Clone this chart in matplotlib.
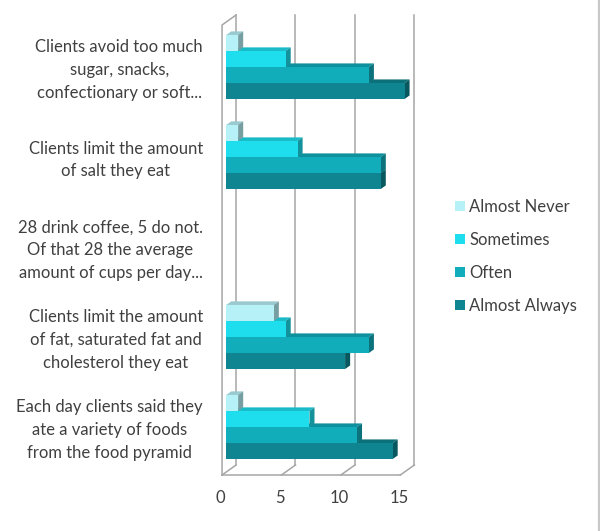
import numpy as np
import matplotlib
matplotlib.use("Agg")
import matplotlib.pyplot as plt
from matplotlib.patches import Polygon
from matplotlib.lines import Line2D
from matplotlib.transforms import blended_transform_factory

plt.rcParams["font.family"] = ["Lato", "DejaVu Sans"]

# categories listed bottom -> top
categories = [
    "Each day clients said they\nate a variety of foods\nfrom the food pyramid",
    "Clients limit the amount\nof fat, saturated fat and\ncholesterol they eat",
    "28 drink coffee, 5 do not.\nOf that 28 the average\namount of cups per day...",
    "Clients limit the amount\nof salt they eat",
    "Clients avoid too much\nsugar, snacks,\nconfectionary or soft...",
]
series = ["Almost Never", "Sometimes", "Often", "Almost Always"]
almost_never = [1, 4, 0, 1, 1]
sometimes = [7, 5, 0, 6, 5]
often = [11, 12, 0, 13, 12]
almost_always = [14, 10, 0, 13, 15]
values = [almost_never, sometimes, often, almost_always]

front_cols = ["#B5F1F6", "#1EDDED", "#12ADBB", "#0E8590"]
ticks = [0, 5, 10, 15]

GRID = "#A6A6A6"
TXT = "#404040"
DX, DY = 1.18, 0.111        # box depth in data units (x, y)
Z0, Z1 = 0.30, 0.66         # bar front / back depth
BH = 0.178                  # bar thickness
FS = 12


def P(v, y, z):
    return (v + z * DX, y + z * DY)


def shade(hexcol, f):
    c = np.array(matplotlib.colors.to_rgb(hexcol)) * f
    return tuple(np.clip(c, 0, 1))


fig = plt.figure(figsize=(6.0, 5.31), dpi=100)
ax = fig.add_axes([0.3582, 0.0631, 0.3585, 0.9322])
ax.set_xlim(-0.6, 17.5)
ax.set_ylim(-0.75, 4.75)
ax.axis("off")

# back wall gridlines
lw = 1.1
for t in ticks:
    (x0, y0), (x1, y1) = P(t, -0.5, 1), P(t, 4.5, 1)
    ax.plot([x0, x1], [y0, y1], color=GRID, lw=lw, zorder=1, clip_on=False)
    # floor gridlines
    (fx, fy), (bx, by) = P(t, -0.5, 0), P(t, -0.5, 1)
    ax.plot([fx, bx], [fy, by], color=GRID, lw=lw, zorder=1, clip_on=False)
# floor front edge
(ax0, ay0), (ax1, ay1) = P(0, -0.5, 0), P(ticks[-1], -0.5, 0)
ax.plot([ax0, ax1], [ay0, ay1], color=GRID, lw=lw, zorder=1, clip_on=False)
# left wall
(lx0, ly0), (lx1, ly1), (lx2, ly2) = P(0, -0.5, 0), P(0, 4.5, 0), P(0, 4.5, 1)
ax.plot([lx0, lx1, lx2], [ly0, ly1, ly2], color=GRID, lw=lw, zorder=1, clip_on=False)

# 3D bars: bottom bar of each group first so the bars above sit on top
offsets = [1.5 * BH, 0.5 * BH, -0.5 * BH, -1.5 * BH]
handles = [None] * 4
z = 2
for s in [3, 2, 1, 0]:
    col = front_cols[s]
    ypos = np.arange(len(categories)) + offsets[s]
    for k, v in enumerate(values[s]):
        if v <= 0:
            continue
        yb, yt = ypos[k] - BH / 2, ypos[k] + BH / 2
        top = [P(0, yt, Z0), P(v, yt, Z0), P(v, yt, Z1), P(0, yt, Z1)]
        side = [P(v, yb, Z0), P(v, yt, Z0), P(v, yt, Z1), P(v, yb, Z1)]
        ax.add_patch(Polygon(top, closed=True, facecolor=shade(col, 0.84),
                             edgecolor="none", zorder=z))
        ax.add_patch(Polygon(side, closed=True, facecolor=shade(col, 0.66),
                             edgecolor="none", zorder=z))
    vals = np.array(values[s], dtype=float)
    bars = ax.barh(ypos + Z0 * DY, vals, left=Z0 * DX, height=BH,
                   color=col, edgecolor="none", zorder=z + 0.5, label=series[s])
    handles[s] = bars
    z += 1

# category labels
tr = blended_transform_factory(fig.transFigure, ax.transData)
for k, lab in enumerate(categories):
    ax.text(203 / 600, k, lab, transform=tr, ha="right", va="center",
            multialignment="center", fontsize=FS, color=TXT, linespacing=1.52)

# value axis labels along the front floor edge
for t in ticks:
    ax.annotate(str(t), P(t, -0.5, 0), xytext=(-1, -16.5), textcoords="offset points",
                ha="center", va="center", fontsize=FS, color=TXT, annotation_clip=False)

leg = fig.legend(handles, series, loc="upper left",
                 bbox_to_anchor=(455 / 600, 1 - 199 / 531), frameon=False,
                 fontsize=FS, labelcolor=TXT, handlelength=0.6, handleheight=0.6,
                 handletextpad=0.25, labelspacing=1.02, borderpad=0, borderaxespad=0)

fig.add_artist(Line2D([598.5 / 600, 598.5 / 600], [0, 1], color="#C8C8C8", lw=1.6,
                      transform=fig.transFigure))

fig.savefig("out.png", dpi=100)
